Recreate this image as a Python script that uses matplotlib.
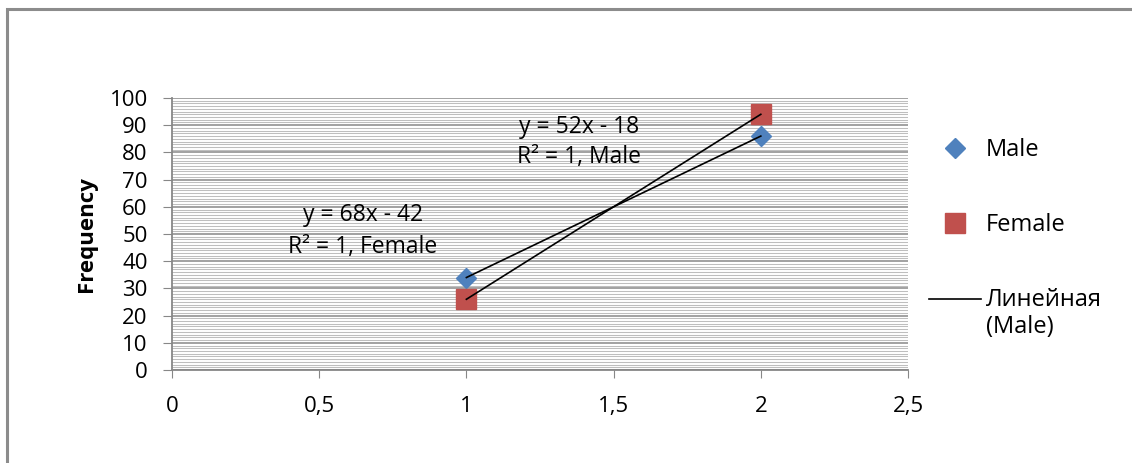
import matplotlib
matplotlib.use("Agg")
import matplotlib.pyplot as plt
from matplotlib.patches import Rectangle

plt.rcParams['font.family'] = ['Open Sans', 'DejaVu Sans']

# data
male_x = [1, 2]
male_y = [34, 86]
female_x = [1, 2]
female_y = [26, 94]
x_ticks = [0, 0.5, 1, 1.5, 2, 2.5]
x_labels = ["0", "0,5", "1", "1,5", "2", "2,5"]
y_ticks = [0, 10, 20, 30, 40, 50, 60, 70, 80, 90, 100]

BLUE = "#4F81BD"
RED = "#C0504D"
GRID = "#878787"
MINOR = "#BEBEBE"

fig = plt.figure(figsize=(11.32, 4.63), dpi=100)
ax = fig.add_axes([172/1132, 1 - 370/463, (908-172)/1132, (370-98)/463])

# outer chart border (only top/left visible)
fig.patches.append(Rectangle((7/1132, -0.1), 1.2, 1 - 9/463 + 0.1,
                             transform=fig.transFigure, fill=False,
                             edgecolor="#8C8C8C", linewidth=2.2))

ax.set_xlim(0, 2.5)
ax.set_ylim(0, 100)
ax.set_xticks(x_ticks)
ax.set_xticklabels(x_labels)
ax.set_yticks(y_ticks)
ax.set_yticks(range(0, 101), minor=True)
ax.tick_params(axis='y', which='minor', length=0)
ax.tick_params(axis='y', which='major', direction='out', length=6.5, color=GRID,
               labelsize=16, pad=11)
ax.tick_params(axis='x', which='major', direction='out', length=6, color=GRID,
               labelsize=16, pad=13)

ax.grid(axis='y', which='minor', color=MINOR, linewidth=0.75)
ax.grid(axis='y', which='major', color=GRID, linewidth=1.1)
ax.set_axisbelow(True)

for s in ['top', 'right']:
    ax.spines[s].set_visible(False)
for s in ['left', 'bottom']:
    ax.spines[s].set_color(GRID)
    ax.spines[s].set_linewidth(1.3)

ax.set_ylabel("Frequency", fontsize=16, fontweight='bold', labelpad=9)

# trend lines
ax.plot(male_x, male_y, color='black', linewidth=1.2, label="Линейная\n(Male)", zorder=4)
ax.plot(female_x, female_y, color='black', linewidth=1.2, zorder=4)

ax.plot(male_x, male_y, linestyle='none', marker='D', markersize=10.5,
        color=BLUE, label="Male", zorder=3)
ax.plot(female_x, female_y, linestyle='none', marker='s', markersize=14.5,
        color=RED, label="Female", zorder=3)

ax.text(0.649, 57.0, "y = 68x - 42", ha='center', va='center', fontsize=16.5)
ax.text(0.649, 45.2, "R² = 1, Female", ha='center', va='center', fontsize=16.5)
ax.text(1.382, 89.3, "y = 52x - 18", ha='center', va='center', fontsize=16.5)
ax.text(1.382, 78.3, "R² = 1, Male", ha='center', va='center', fontsize=16.5)

h, l = ax.get_legend_handles_labels()
order = [1, 2, 0]
leg = ax.legend([h[i] for i in order], [l[i] for i in order],
                loc='upper left', bbox_to_anchor=(1.0, 0.93), frameon=False,
                fontsize=17, labelspacing=2.15, handlelength=2.2, handletextpad=0.2)
# move the trendline sample up to the first text line, like Excel does
trend_handle = leg.legend_handles[2]
trend_handle.set_ydata([y + 11 for y in trend_handle.get_ydata()])

fig.savefig("out.png", dpi=100)
